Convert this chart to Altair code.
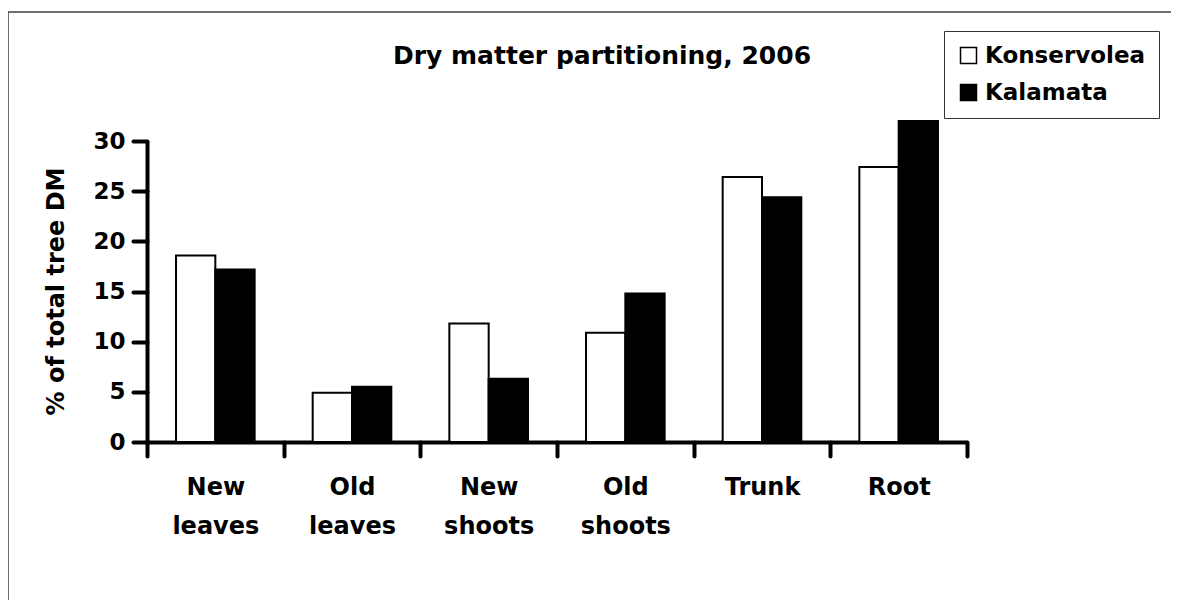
import altair as alt
import pandas as pd

categories = ["New leaves", "Old leaves", "New shoots", "Old shoots", "Trunk", "Root"]
series = ["Konservolea", "Kalamata"]
konservolea = [18.6, 4.9, 11.8, 10.9, 26.4, 27.4]
kalamata = [17.2, 5.5, 6.3, 14.8, 24.4, 32.0]
y_ticks = [0, 5, 10, 15, 20, 25, 30]
TITLE = "Dry matter partitioning, 2006"
Y_TITLE = "% of total tree DM"

rows = []
for c, a, b in zip(categories, konservolea, kalamata):
    rows.append({"category": c, "series": series[0], "value": a})
    rows.append({"category": c, "series": series[1], "value": b})
df = pd.DataFrame(rows)

FONT = "DejaVu Sans"
W, H = 820, 301

bars = alt.Chart(df).mark_bar(stroke="black", strokeWidth=2).encode(
    x=alt.X("category:N", sort=categories,
            scale=alt.Scale(paddingInner=0, paddingOuter=0),
            axis=alt.Axis(title=None, labelAngle=0, tickBand="extent",
                          labelExpr="split(datum.label, ' ')",
                          labelFont=FONT, labelFontSize=24, labelFontWeight="bold",
                          labelColor="black", labelLineHeight=39,
                          labelPadding=19, labelBaseline="top",
                          domainColor="black", domainWidth=4,
                          tickColor="black", tickWidth=4, tickSize=14, tickCap="round")),
    xOffset=alt.XOffset("series:N", sort=series,
                        scale=alt.Scale(paddingInner=0, paddingOuter=0.738)),
    y=alt.Y("value:Q",
            scale=alt.Scale(domain=[0, 30], nice=False),
            axis=alt.Axis(title=Y_TITLE, values=y_ticks, grid=False,
                          labelFont=FONT, labelFontSize=23, labelFontWeight="bold",
                          labelColor="black", labelPadding=8,
                          titleFont=FONT, titleFontSize=24, titleFontWeight="bold",
                          titleColor="black", titleX=-84, titleY=150,
                          titleAngle=270, titleAlign="center", titleBaseline="alphabetic",
                          domainColor="black", domainWidth=4,
                          tickColor="black", tickWidth=4, tickSize=14, tickCap="round")),
    fill=alt.Fill("series:N", sort=series,
                  scale=alt.Scale(domain=series, range=["white", "black"]),
                  legend=alt.Legend(title=None, orient="none", legendX=797, legendY=-110,
                                    symbolType="square", symbolSize=256,
                                    symbolStrokeColor="black", symbolStrokeWidth=1.5,
                                    labelFont=FONT, labelFontSize=23, labelFontWeight="bold",
                                    labelColor="black", labelOffset=5, labelLimit=400,
                                    padding=13, rowPadding=13,
                                    strokeColor="#333333", fillColor="white")),
)

title = alt.Chart(alt.Data(values=[{}])).mark_text(
    font=FONT, fontSize=25, fontWeight="bold", color="black",
    align="center", baseline="alphabetic"
).encode(x=alt.value(455), y=alt.value(-77.5), text=alt.value(TITLE))

frame = alt.Chart(alt.Data(values=[{}])).mark_rect(
    fill="white", fillOpacity=0, stroke="#404040", strokeWidth=1.5
).encode(x=alt.value(-139), y=alt.value(-129), x2=alt.value(1100), y2=alt.value(600))

chart = alt.layer(frame, bars, title).properties(
    width=W, height=H,
    autosize=alt.AutoSizeParams(type="none"),
    padding={"left": 139, "top": 133, "right": 204, "bottom": 158},
    background="white",
).configure_view(stroke=None)

chart.save("out.html", embed_options={"renderer": "svg", "actions": False})
